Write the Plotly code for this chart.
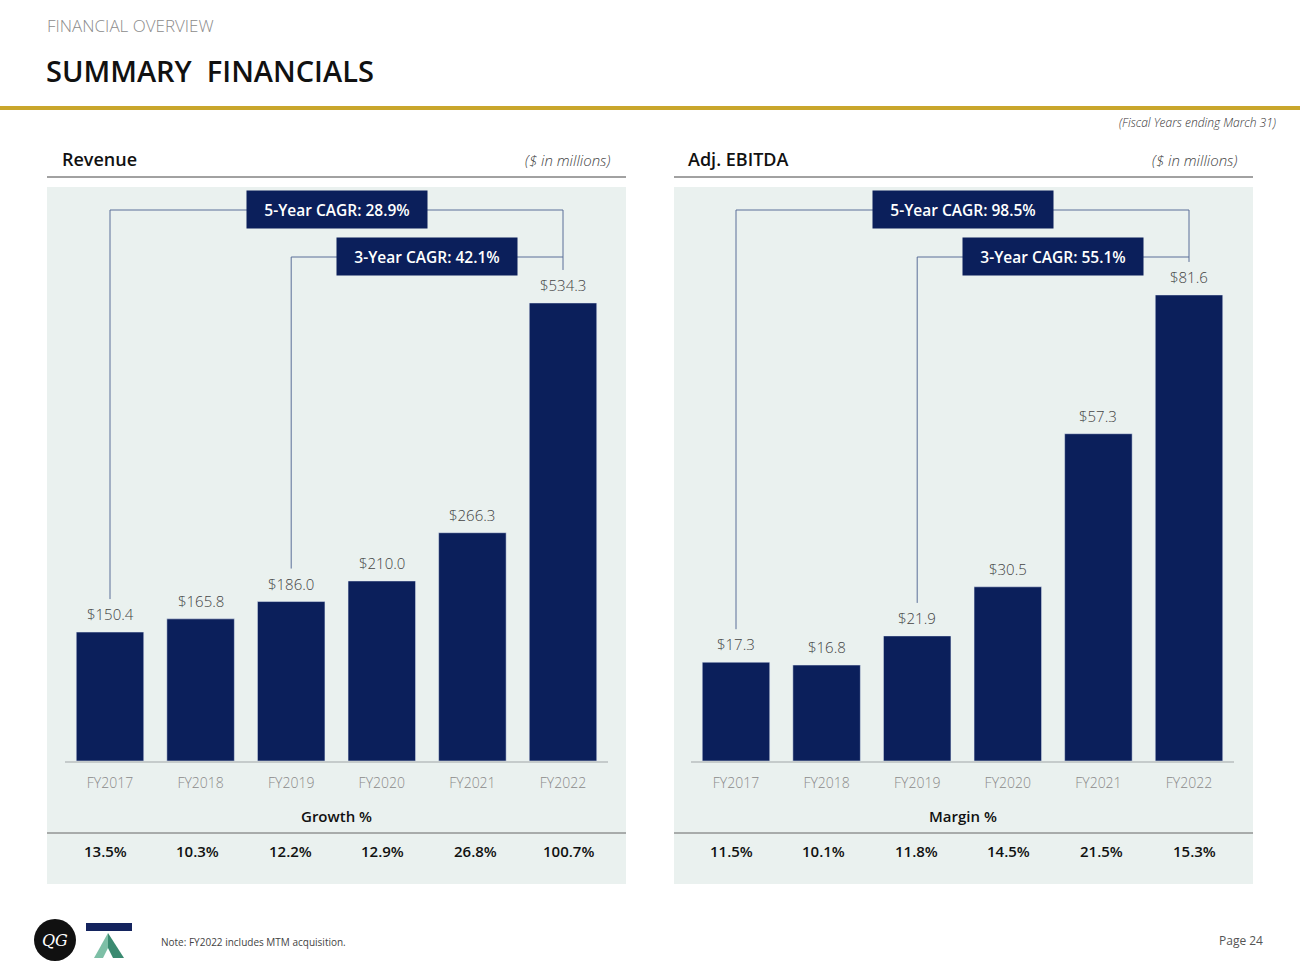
import plotly.graph_objects as go

# ---------------- data ----------------
years = ["FY2017", "FY2018", "FY2019", "FY2020", "FY2021", "FY2022"]
revenue = [150.4, 165.8, 186.0, 210.0, 266.3, 534.3]
ebitda = [17.3, 16.8, 21.9, 30.5, 57.3, 81.6]
growth_pct = ["13.5%", "10.3%", "12.2%", "12.9%", "26.8%", "100.7%"]
margin_pct = ["11.5%", "10.1%", "11.8%", "14.5%", "21.5%", "15.3%"]
rev_cagr = {"5-Year CAGR": "28.9%", "3-Year CAGR": "42.1%"}
ebitda_cagr = {"5-Year CAGR": "98.5%", "3-Year CAGR": "55.1%"}

# ---------------- style ----------------
W, H = 1300, 978
NAVY = "#0B1F5B"
BG = "#EAF1EF"
GOLD = "#C9A62B"
CONN = "#5B6E98"
FONT = "Open Sans"

def px(x):
    return x / W

def py(y):
    return 1 - y / H

BASE = 761       # baseline pixel
TOP = 187        # plot top pixel
rev_range = 669.6
ebit_range = 100.5

def d2(pixels, rng):
    # convert a pixel distance into data units
    return pixels * rng / (BASE - TOP)

fig = go.Figure()

fig.add_trace(go.Bar(x=years, y=revenue, marker_color=NAVY, xaxis="x", yaxis="y",
                     hoverinfo="x+y", showlegend=False))
fig.add_trace(go.Bar(x=years, y=ebitda, marker_color=NAVY, xaxis="x2", yaxis="y2",
                     hoverinfo="x+y", showlegend=False))

shapes = []
ann = []

def note(text, x, y, size, color="#111111", xanchor="left", family=FONT, weight=None, **kw):
    f = dict(family=family, size=size, color=color)
    if weight is not None:
        f["weight"] = weight
    d = dict(text=text, x=px(x), y=py(y), xref="paper", yref="paper", xanchor=xanchor,
             yanchor="middle", showarrow=False, font=f)
    d.update(kw)
    ann.append(d)

# header
note("FINANCIAL OVERVIEW", 45, 25, 17, color="#8C8C8C", weight=300)
note("SUMMARY  FINANCIALS", 44, 71, 29, color="#111111", family=FONT, weight=600)
shapes.append(dict(type="line", xref="paper", yref="paper", x0=0, x1=1, y0=py(108), y1=py(108),
                   line=dict(color=GOLD, width=4)))
note("<i>(Fiscal Years ending March 31)</i>", 1278, 123, 12, color="#333333", xanchor="right",
     weight=300)

panels = [
    dict(title="Revenue", x0=47, x1=626, xa="x", ya="y", vals=revenue, rng=rev_range,
         cagr=rev_cagr, row_title="Growth %", row=growth_pct, title_x=60, unit_x=612),
    dict(title="Adj. EBITDA", x0=674, x1=1253, xa="x2", ya="y2", vals=ebitda, rng=ebit_range,
         cagr=ebitda_cagr, row_title="Margin %", row=margin_pct, title_x=686, unit_x=1239),
]

for p in panels:
    # panel background
    shapes.append(dict(type="rect", xref="paper", yref="paper", x0=px(p["x0"]), x1=px(p["x1"]),
                       y0=py(884), y1=py(187), fillcolor=BG, line=dict(width=0), layer="below"))
    # title row
    note(p["title"], p["title_x"], 159, 18, weight=600)
    note("<i>($ in millions)</i>", p["unit_x"], 160, 15, color="#444444", xanchor="right",
         weight=300)
    shapes.append(dict(type="line", xref="paper", yref="paper", x0=px(p["x0"]), x1=px(p["x1"]),
                       y0=py(177), y1=py(177), line=dict(color="#444444", width=1)))
    # value labels
    for yr, v in zip(years, p["vals"]):
        ann.append(dict(text="$%.1f" % v, x=yr, y=v, xref=p["xa"], yref=p["ya"],
                        xanchor="center", yanchor="bottom", yshift=6, showarrow=False,
                        font=dict(family=FONT, size=15, color="#444444", weight=300)))
    # CAGR connectors
    rng = p["rng"]
    lvl5 = d2(BASE - 210, rng)
    lvl3 = d2(BASE - 257, rng)
    clear = d2(33, rng)
    xa, ya = p["xa"], p["ya"]
    # 5-year: FY2017 -> FY2022
    shapes.append(dict(type="path", xref=xa, yref=ya,
                       path="M 0,%f L 0,%f L 5,%f L 5,%f" % (p["vals"][0] + clear, lvl5, lvl5,
                                                              p["vals"][5] + clear),
                       line=dict(color=CONN, width=1)))
    # 3-year: FY2019 -> FY2022
    shapes.append(dict(type="path", xref=xa, yref=ya,
                       path="M 2,%f L 2,%f L 5,%f" % (p["vals"][2] + clear, lvl3, lvl3),
                       line=dict(color=CONN, width=1)))
    for (label, val), lvl, xc in zip(p["cagr"].items(), [lvl5, lvl3], [2.5, 3.5]):
        ann.append(dict(text="%s: %s" % (label, val), x=xc, y=lvl, xref=xa, yref=ya,
                        xanchor="center", yanchor="middle", showarrow=False,
                        bgcolor=NAVY, width=180, height=37, borderpad=0,
                        font=dict(family=FONT, size=15.5, color="white", weight=600)))
    # bottom row
    ann.append(dict(text="%s" % p["row_title"], x=2.5, y=py(816), xref=xa, yref="paper",
                    xanchor="center", yanchor="middle", showarrow=False,
                    font=dict(family=FONT, size=15, color="#111111", weight=600)))
    shapes.append(dict(type="line", xref="paper", yref="paper", x0=px(p["x0"]), x1=px(p["x1"]),
                       y0=py(833), y1=py(833), line=dict(color="#666666", width=1)))
    for i, (yr, t) in enumerate(zip(years, p["row"])):
        ann.append(dict(text="%s" % t, x=yr, y=py(851), xref=xa, yref="paper",
                        xanchor="center", yanchor="middle", showarrow=False,
                        xshift=(i - 2.5) * 2,
                        font=dict(family=FONT, size=15, color="#111111", weight=600)))

# footer logos
shapes.append(dict(type="circle", xref="paper", yref="paper", x0=px(34), x1=px(76),
                   y0=py(961), y1=py(919), fillcolor="#111111", line=dict(width=0)))
note("<i>QG</i>", 55, 940, 16, color="white", xanchor="center", family="DejaVu Serif")
shapes.append(dict(type="rect", xref="paper", yref="paper", x0=px(86), x1=px(132),
                   y0=py(931), y1=py(923), fillcolor="#14245E", line=dict(width=0)))
shapes.append(dict(type="path", xref="paper", yref="paper",
                   path="M %f,%f L %f,%f L %f,%f L %f,%f Z" % (px(108), py(933), px(94), py(958),
                                                              px(103), py(958), px(108), py(948)),
                   fillcolor="#7DBFA6", line=dict(width=0)))
shapes.append(dict(type="path", xref="paper", yref="paper",
                   path="M %f,%f L %f,%f L %f,%f L %f,%f Z" % (px(108), py(933), px(108), py(948),
                                                              px(113), py(958), px(124), py(958)),
                   fillcolor="#3A8A70", line=dict(width=0)))
note("Note: FY2022 includes MTM acquisition.", 159, 942, 10, color="#444444")
note("Page 24", 1265, 940, 12, color="#555555", xanchor="right")

slot = 90.6
xaxis_common = dict(type="category", range=[-0.5, 5.5], showgrid=False, zeroline=False,
                    showline=True, linecolor="#C5CBCB", linewidth=1.5, ticks="",
                    tickfont=dict(family=FONT, size=14, color="#8A8A8A", weight=300),
                    ticklabelstandoff=8, fixedrange=True)
yaxis_common = dict(showgrid=False, zeroline=False, showticklabels=False, showline=False,
                    fixedrange=True)

fig.update_layout(
    width=W, height=H, margin=dict(l=0, r=0, t=0, b=0),
    paper_bgcolor="white", plot_bgcolor="rgba(0,0,0,0)",
    bargap=0.255, showlegend=False,
    xaxis=dict(xaxis_common, domain=[px(110 - slot / 2), px(563 + slot / 2)], anchor="y"),
    yaxis=dict(yaxis_common, domain=[py(BASE), py(TOP)], range=[0, rev_range], anchor="x"),
    xaxis2=dict(xaxis_common, domain=[px(736 - slot / 2), px(1189 + slot / 2)], anchor="y2"),
    yaxis2=dict(yaxis_common, domain=[py(BASE), py(TOP)], range=[0, ebit_range], anchor="x2"),
    shapes=shapes, annotations=ann,
)

fig.write_html("out.html", config={"displayModeBar": False},
               post_script="document.body.style.margin='0';document.body.style.overflow='hidden';")
